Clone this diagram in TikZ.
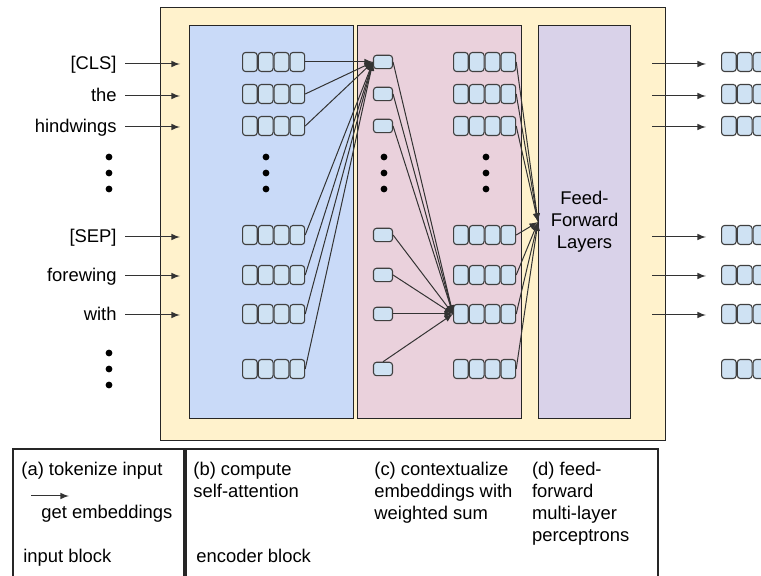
\documentclass[tikz,border=0pt]{standalone}
\usepackage{fontspec}
\setmainfont{Liberation Sans}
\usetikzlibrary{positioning}

\definecolor{bgyellow}{HTML}{FFF2CC}
\definecolor{encblue}{HTML}{C9DAF8}
\definecolor{ctxpink}{HTML}{EAD1DC}
\definecolor{ffpurple}{HTML}{D9D2E9}
\definecolor{cellblue}{HTML}{CFE2F3}

% one embedding = four cells side by side
\newcommand{\embrow}[3]{%
	\node[cell, anchor=west] (#1-1) at (#2,#3) {};
	\node[cell, right=0pt of #1-1] (#1-2) {};
	\node[cell, right=0pt of #1-2] (#1-3) {};
	\node[cell, right=0pt of #1-3] (#1-4) {};
}

\begin{document}
\begin{tikzpicture}[x=0.5pt, y=-0.5pt,
	font=\fontsize{9.2}{11}\selectfont,
	block/.style={rectangle, draw=black!85, line width=0.6pt, inner sep=0pt},
	cell/.style={rectangle, rounded corners=1.5pt, draw=black!75, fill=cellblue, line width=0.55pt, minimum width=7.35pt, minimum height=9.5pt, inner sep=0pt},
	small/.style={cell, minimum width=9.5pt, minimum height=6.7pt},
	word/.style={inner sep=4pt, anchor=mid east},
	dot/.style={circle, fill=black, inner sep=0pt, minimum size=3.4pt},
	link/.style={draw=black!80, line width=0.5pt, -latex},
	legend/.style={anchor=north west, inner sep=0pt, align=left}
	]
	\useasboundingbox (0,0) rectangle (761,576);
	\clip (0,0) rectangle (761,576);

	% blocks
	\node (inp) [block, fill=bgyellow, minimum width=252.4pt, minimum height=216.4pt] at (413,224) {};
		\node (enc) [block, fill=encblue, minimum width=81.9pt, minimum height=196.4pt] at (271.5,222) {};
		\node (ctx) [block, fill=ctxpink, minimum width=81.9pt, minimum height=196.4pt] at (439.5,222) {};
		\node (ff) [block, fill=ffpurple, minimum width=45.9pt, minimum height=196.4pt, align=center] at (584.5,222) {Feed-\\Forward\\Layers};

	% embeddings
	\foreach \n/\y in {1/62,2/94,3/126,4/235,5/275,6/314,7/369} {
		\embrow{b\n}{242}{\y}
		\embrow{r\n}{453}{\y}
		\embrow{o\n}{721}{\y}
		\node (s\n) [small] at (383,\y) {};
	}

	% words
	\foreach \n/\y/\t in {1/64/[CLS],2/96/the,3/127/hindwings,4/237/[SEP],5/276/forewing,6/315/with} {
		\node (w\n) [word] at (125,\y) {\t};
		\coordinate (in\n) at (180,\y);
		\coordinate (f\n) at (652,\y);
		\coordinate (g\n) at (706,\y);
		\draw [link] (w\n.mid east) -- (in\n);
		\draw [link] (f\n) -- (g\n);
	}

	% dots
	\foreach \y in {157,173,189} {
		\node (wd\y) [dot] at (109,\y) {};
		\node (bd\y) [dot] at (266,\y) {};
		\node (sd\y) [dot] at (384,\y) {};
		\node (rd\y) [dot] at (486,\y) {};
	}
	\foreach \y in {353,369,385}
		\node (wd\y) [dot] at (109,\y) {};

	% attention
	\foreach \n in {1,...,7} {
		\draw [link] (b\n-4.east) -- (s1.west);
		\draw [link] (r\n-4.east) -- (ff.west);
	}
	\foreach \n in {1,...,6}
		\draw [link] (s\n.east) -- (r6-1.west);
	\draw [link] (s7.north) -- (r6-1.west);

	% legend
	\draw [block] (13,449) rectangle (184,600);
	\draw [block] (186,449) rectangle (658,600);
	\node (la) [legend] at (21,462) {(a) tokenize input};
	\coordinate (lg1) at (31,496);
	\coordinate (lg2) at (69,496);
	\draw [link] (lg1) -- (lg2);
	\node (lemb) [legend] at (41,505) {get embeddings};
	\node (linp) [legend] at (23,549) {input block};
	\node (lb) [legend] at (193,462) {(b) compute\\self-attention};
	\node (lenc) [legend] at (196,549) {encoder block};
	\node (lc) [legend] at (374,462) {(c) contextualize\\embeddings with\\weighted sum};
	\node (ld) [legend] at (531.7,462) {(d) feed-\\forward\\multi-layer\\perceptrons};
\end{tikzpicture}
\end{document}
